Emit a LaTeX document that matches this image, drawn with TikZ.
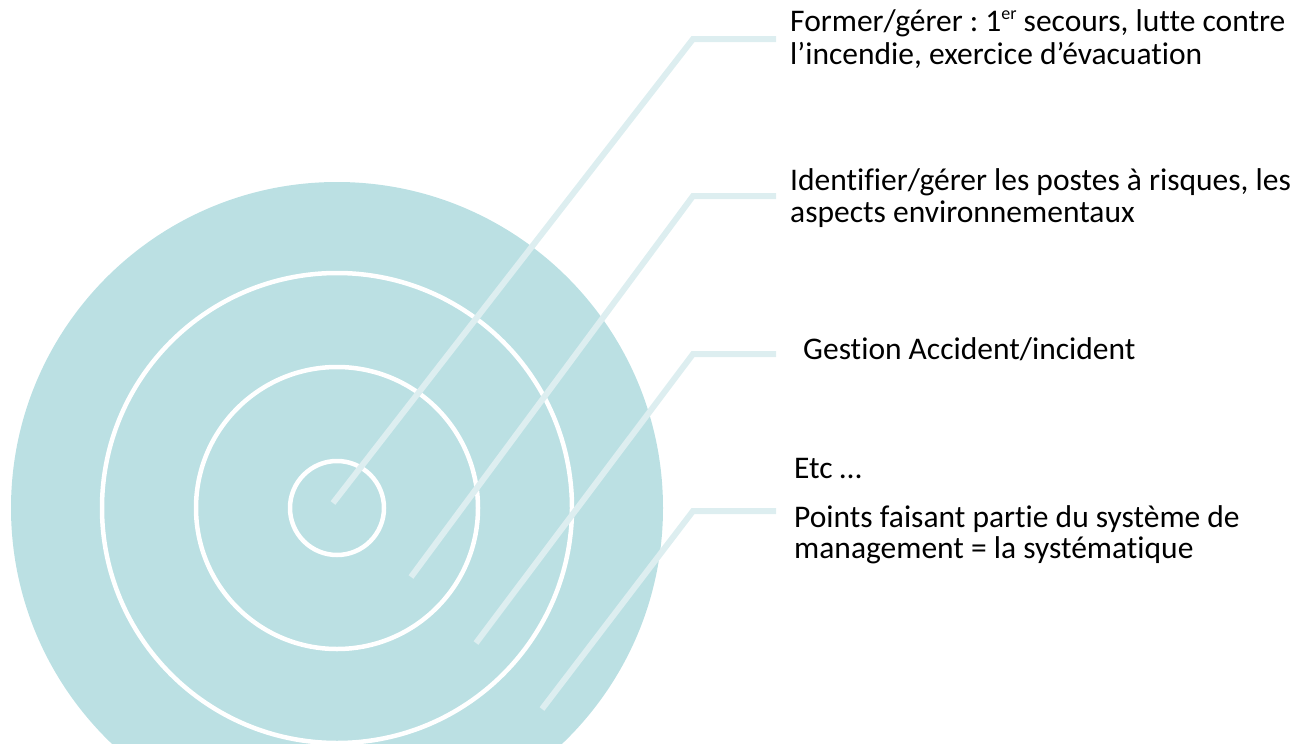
\documentclass[tikz,border=0pt]{standalone}
\usepackage{fontspec}
\setmainfont{Carlito}[Ligatures={NoCommon}]
\frenchspacing
\definecolor{ringfill}{RGB}{187,224,227}
\definecolor{leader}{RGB}{221,238,240}
\definecolor{txt}{RGB}{0,0,0}
\newcommand{\supr}[1]{\raisebox{0.38em}{\fontsize{18}{18}\selectfont #1}}
\tikzset{
  ringline/.style={draw=white, line width=4.5pt},
  leaderline/.style={draw=leader, line width=6pt},
  label/.style={anchor=base west, inner sep=0pt, text=txt, font=\fontsize{31.5}{34}\selectfont}
}
\begin{document}
\begin{tikzpicture}[x=1pt,y=-1pt]
\useasboundingbox (0,0) rectangle (1307,744);
\clip (0,0) rectangle (1307,744);
\coordinate (c) at (337,508);
\fill[ringfill] (c) circle (326);
\draw[ringline] (c) circle (235);
\draw[ringline] (c) circle (141);
\draw[ringline] (c) circle (47);
% leader lines
\coordinate (s1) at (333,503);
\coordinate (s2) at (411,577);
\coordinate (s3) at (476,643);
\coordinate (s4) at (542,709);
\coordinate (k1) at (693,39);
\coordinate (k2) at (693,196);
\coordinate (k3) at (693,354);
\coordinate (k4) at (693,511);
\coordinate (e1) at (776,39);
\coordinate (e2) at (776,196);
\coordinate (e3) at (776,354);
\coordinate (e4) at (776,511);
\draw[leaderline] (s1) -- (k1) -- (e1);
\draw[leaderline] (s2) -- (k2) -- (e2);
\draw[leaderline] (s3) -- (k3) -- (e3);
\draw[leaderline] (s4) -- (k4) -- (e4);
% labels
\node[label] (t1a) at (790,31) {Former/gérer : 1\supr{er} secours, lutte contre};
\node[label] (t1b) at (790,64) {l’incendie, exercice d’évacuation};
\node[label] (t2a) at (790,190) {Identifier/gérer les postes à risques, les};
\node[label] (t2b) at (790,222) {aspects environnementaux};
\node[label] (t3) at (803,359) {Gestion Accident/incident};
\node[label] (t4) at (794,478) {Etc …};
\node[label] (t5a) at (794,527) {Points faisant partie du système de};
\node[label] (t5b) at (794,558) {management = la systématique};
\end{tikzpicture}
\end{document}
